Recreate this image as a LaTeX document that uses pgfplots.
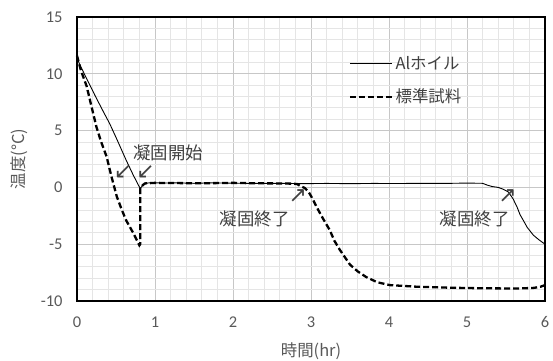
\documentclass[border=0pt]{standalone}
\usepackage{pgfplots}
\pgfplotsset{compat=1.18}
\usepackage{fontspec}
\setmainfont{Carlito}
\newfontfamily\jp{Noto Sans CJK JP}
\newfontfamily\sym{DejaVu Sans}
\usetikzlibrary{calc}
\definecolor{tickgray}{HTML}{595959}
\definecolor{txtgray}{HTML}{404040}
\begin{document}
\begin{tikzpicture}
\begin{axis}[
 width=468bp, height=284bp, scale only axis,
 xmin=0, xmax=6, ymin=-10, ymax=15,
 xtick={0,1,2,3,4,5,6}, ytick={-10,-5,0,5,10,15},
 minor x tick num=4, minor y tick num=4,
 grid=both,
 major grid style={color=black!22, line width=1bp},
 minor grid style={color=black!10, line width=0.9bp},
 axis line style={black, line width=1.6bp},
 major tick length=0pt, minor tick length=0pt,
 /pgf/number format/assume math mode=true,
 ticklabel style={font=\fontsize{16.5}{19}\selectfont, text=tickgray},
 xticklabel style={yshift=-12bp},
 yticklabel style={xshift=-11bp},
 xlabel={\jp 時間(hr)}, ylabel={\jp 温度(°C)},
 label style={font=\fontsize{16.5}{19}\selectfont\jp, text=tickgray},
 xlabel style={yshift=-8bp},
 ylabel style={yshift=6bp},
 legend style={at={(axis cs:3.45,11.9)}, anchor=north west, draw=none, fill=none,
   font=\fontsize{16.5}{19}\selectfont\jp, text=txtgray, row sep=14bp},
 legend cell align=left,
 legend image code/.code={\draw[#1] (0bp,0bp) -- (42bp,0bp);},
 clip=false,
]
\addplot[black, line width=0.9bp] coordinates {
(0,11.4) (0.03,10.9) (0.1,9.9) (0.23,8.1) (0.32,6.9) (0.42,5.6) (0.52,4.1) (0.63,2.4) (0.72,1.1) (0.81,-0.1)
(0.84,0.15) (0.87,0.35) (0.95,0.42) (1.1,0.38) (1.3,0.4) (1.5,0.36) (1.7,0.4) (2.0,0.37) (2.3,0.35)
(2.6,0.36) (2.9,0.33) (3.2,0.35) (3.5,0.33) (3.8,0.35) (4.1,0.34) (4.4,0.36) (4.7,0.35) (5.0,0.38)
(5.2,0.36) (5.26,0.2) (5.32,0.08) (5.4,0.0) (5.46,-0.15) (5.53,-0.4) (5.59,-1.0) (5.64,-1.7)
(5.68,-2.4) (5.73,-3.0) (5.77,-3.5) (5.85,-4.2) (5.92,-4.6) (6,-5.0)
};
\addlegendentry{Alホイル}
\addplot[black, line width=2.3bp, dash pattern=on 6bp off 3bp] coordinates {
(0,11.6) (0.05,10.3) (0.124,8.9) (0.19,7.0) (0.25,5.3) (0.31,4.0) (0.38,2.7) (0.44,1.0) (0.51,-0.8)
(0.57,-1.9) (0.63,-2.9) (0.72,-4.0) (0.8,-5.1) (0.81,-5.0) (0.81,0.0) (0.87,0.35) (1.0,0.4)
(1.3,0.38) (1.6,0.36) (2.0,0.4) (2.3,0.36) (2.6,0.35) (2.75,0.33) (2.82,0.3) (2.87,0.1) (2.92,-0.05)
(2.97,-0.4) (3.02,-1.0) (3.07,-1.7) (3.15,-2.7) (3.24,-3.75) (3.3,-4.7) (3.37,-5.5) (3.5,-6.8)
(3.6,-7.4) (3.71,-7.9) (3.85,-8.35) (4.01,-8.6) (4.35,-8.74) (4.78,-8.83) (5.2,-8.88) (5.63,-8.9)
(5.85,-8.85) (5.94,-8.75) (6,-8.6)
};
\addlegendentry{標準試料}
\node[font=\fontsize{17.5}{20}\selectfont\jp, text=txtgray] at (axis cs:1.17,3.0) {凝固開始};
\node[font=\fontsize{17.5}{20}\selectfont\jp, text=txtgray] at (axis cs:2.28,-2.75) {凝固終了};
\node[font=\fontsize{17.5}{20}\selectfont\jp, text=txtgray] at (axis cs:5.1,-2.75) {凝固終了};
\node[font=\fontsize{22}{24}\selectfont\sym, text=txtgray] at (axis cs:0.59,1.35) {↙};
\node[font=\fontsize{22}{24}\selectfont\sym, text=txtgray] at (axis cs:0.88,1.35) {↙};
\node[font=\fontsize{22}{24}\selectfont\sym, text=txtgray] at (axis cs:2.83,-0.75) {↗};
\node[font=\fontsize{22}{24}\selectfont\sym, text=txtgray] at (axis cs:5.52,-0.75) {↗};
\end{axis}
\pgfresetboundingbox
\path ($(current axis.south west)+(-77bp,-59bp)$) rectangle ($(current axis.north east)+(8bp,17bp)$);
\end{tikzpicture}
\end{document}
